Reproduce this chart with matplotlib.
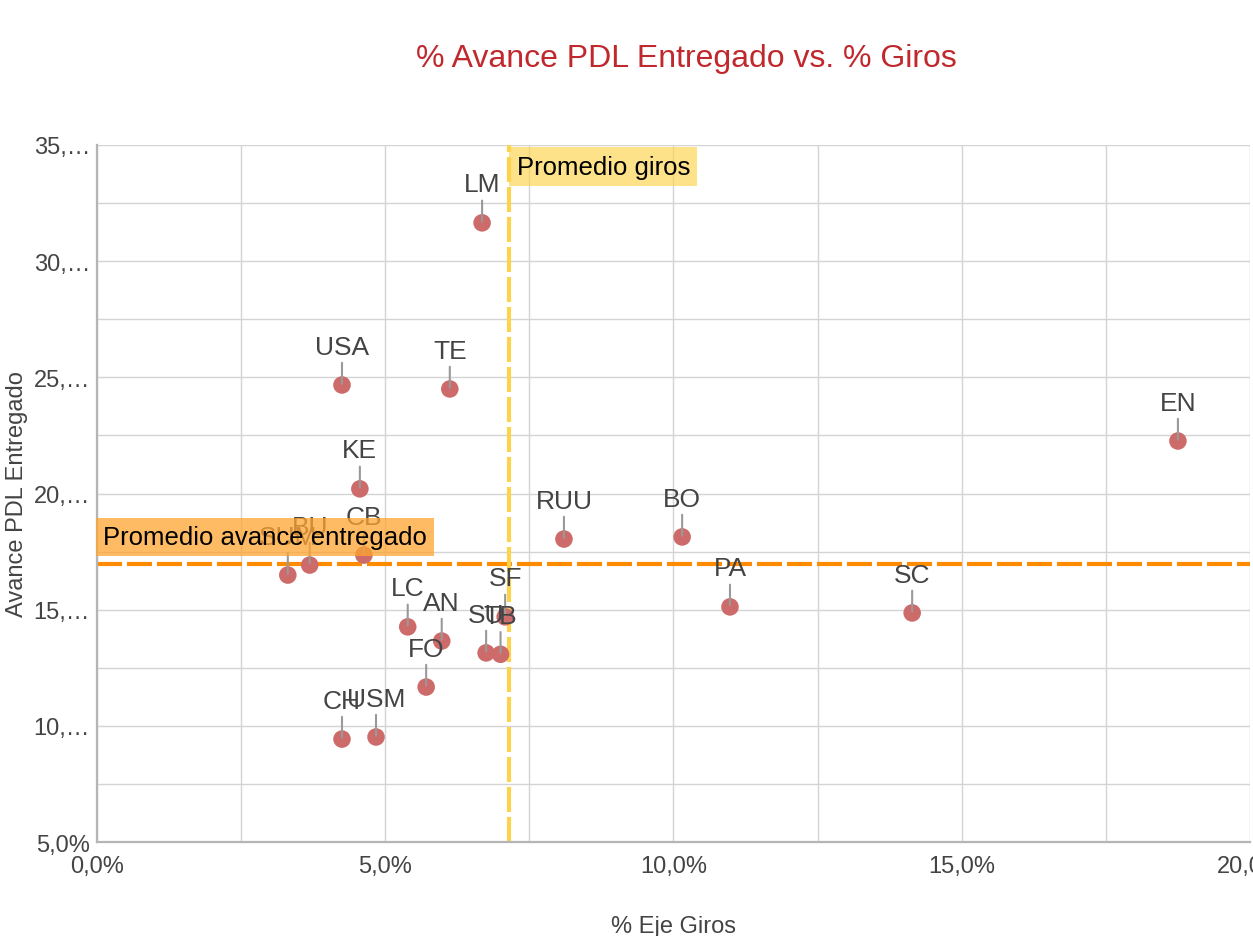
import matplotlib.pyplot as plt
import matplotlib.ticker as ticker
import numpy as np

plt.rcParams['font.family'] = ['Liberation Sans', 'DejaVu Sans']

# data
labels = ['LM', 'USA', 'TE', 'EN', 'KE', 'RUU', 'BO', 'CB', 'BU', 'SUM',
          'PA', 'SC', 'SF', 'LC', 'AN', 'SU', 'TB', 'FO', 'CH', 'USM']
giros = [6.68, 4.25, 6.12, 18.75, 4.56, 8.10, 10.15, 4.63, 3.69, 3.31,
         10.98, 14.14, 7.08, 5.39, 5.98, 6.75, 7.00, 5.71, 4.25, 4.84]
avance = [31.65, 24.67, 24.50, 22.26, 20.20, 18.04, 18.13, 17.35, 16.92, 16.49,
          15.12, 14.86, 14.69, 14.26, 13.65, 13.14, 13.08, 11.67, 9.43, 9.52]
prom_giros = 7.15
prom_avance = 16.97

fig = plt.figure(figsize=(12.53, 9.37), dpi=100)
ax = fig.add_axes([0.0774, 0.1003, 0.9202, 0.7439])

ax.set_xlim(0, 20)
ax.set_ylim(5, 35)

ax.xaxis.set_major_locator(ticker.MultipleLocator(5))
ax.xaxis.set_minor_locator(ticker.MultipleLocator(2.5))
ax.yaxis.set_major_locator(ticker.MultipleLocator(5))
ax.yaxis.set_minor_locator(ticker.MultipleLocator(2.5))
ax.xaxis.set_major_formatter(ticker.FuncFormatter(lambda v, p: ('%.1f%%' % v).replace('.', ',')))
ax.yaxis.set_major_formatter(ticker.FuncFormatter(lambda v, p: '5,0%' if v == 5 else '%d,\u2026' % v))
ax.grid(True, which='both', color='#d4d4d4', lw=1)
ax.set_axisbelow(True)
ax.tick_params(which='both', length=0, labelsize=17, colors='#444444', pad=5)
ax.tick_params(axis='x', pad=9)

for s in ['top', 'right']:
    ax.spines[s].set_visible(False)
for s in ['left', 'bottom']:
    ax.spines[s].set_color('#b5b5b5')
    ax.spines[s].set_linewidth(1.6)

ax.axhline(prom_avance, color='#ff8c00', lw=3, ls=(0, (6, 1.2)), zorder=2.5)
ax.axvline(prom_giros, color='#fdd34b', lw=3, ls=(0, (6, 1.2)), zorder=2.5)

ax.scatter(giros, avance, s=160, color='#cd6b6b', zorder=3, edgecolors='none')

for name, x, y in zip(labels, giros, avance):
    ax.annotate(name, (x, y), xytext=(0, 19), textcoords='offset points',
                ha='center', va='bottom', fontsize=19, color='#444444', zorder=4,
                arrowprops=dict(arrowstyle='-', color='#999999', lw=1.5,
                                shrinkA=1, shrinkB=1))

ax.text(0.1, 17.6, 'Promedio avance entregado', fontsize=18.5, color='black',
        ha='left', va='bottom', zorder=6,
        bbox=dict(boxstyle='square,pad=0.28', fc='#ffa530', ec='none', alpha=0.75))
ax.text(prom_giros + 0.13, 33.55, 'Promedio giros', fontsize=18.5, color='black',
        ha='left', va='bottom', zorder=6,
        bbox=dict(boxstyle='square,pad=0.28', fc='#fdd34b', ec='none', alpha=0.65))

ax.set_xlabel('% Eje Giros', fontsize=17, color='#444444', labelpad=28)
ax.set_ylabel('Avance PDL Entregado', fontsize=17, color='#444444', labelpad=4)
fig.text(0.548, 0.937, '% Avance PDL Entregado vs. % Giros', fontsize=23,
         color='#c0282d', ha='center', va='center')

fig.savefig('out.png', dpi=100)
